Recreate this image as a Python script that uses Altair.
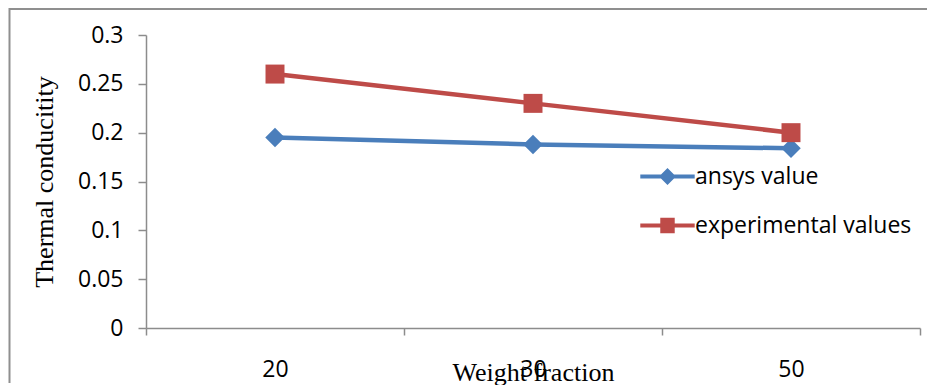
import altair as alt
import pandas as pd

# ---- data ----
fractions = ["20", "30", "50"]
ansys_value = [0.195, 0.188, 0.184]
experimental_values = [0.26, 0.23, 0.20]
series_names = ["ansys value", "experimental values"]
series_colors = ["#4A7EBB", "#BE4B48"]
y_ticks = [0, 0.05, 0.1, 0.15, 0.2, 0.25, 0.3]

df = pd.DataFrame({
    "fraction": fractions * 2,
    "value": ansys_value + experimental_values,
    "series": [series_names[0]] * 3 + [series_names[1]] * 3,
})

SANS = "Open Sans"
SERIF = "Liberation Serif"
AXIS_GRAY = "#8c8c8c"

x_enc = alt.X(
    "fraction:O",
    sort=fractions,
    scale=alt.Scale(type="band", paddingInner=0, paddingOuter=0),
    axis=alt.Axis(
        title="Weight fraction",
        tickBand="extent",
        labelAngle=0,
        labelFont=SANS,
        labelFontSize=23,
        labelColor="black",
        labelPadding=23,
        tickSize=7,
        tickColor=AXIS_GRAY,
        tickWidth=1.5,
        domainColor=AXIS_GRAY,
        domainWidth=1.5,
        grid=False,
        titleFont=SERIF,
        titleFontSize=26,
        titleFontWeight="normal",
        titleColor="black",
        titleBaseline="alphabetic",
        titleY=52,
    ),
)

y_enc = alt.Y(
    "value:Q",
    scale=alt.Scale(domain=[0, 0.3], nice=False, zero=True),
    axis=alt.Axis(
        values=y_ticks,
        format=".2~f",
        title="Thermal conducitity",
        labelFont=SANS,
        labelFontSize=23,
        labelColor="black",
        labelPadding=15,
        tickSize=8,
        tickColor=AXIS_GRAY,
        tickWidth=1.5,
        domainColor=AXIS_GRAY,
        domainWidth=1.5,
        grid=False,
        titleFont=SERIF,
        titleFontSize=26,
        titleFontWeight="normal",
        titleColor="black",
        titleBaseline="alphabetic",
        titleAlign="center",
        titleAngle=270,
        titleX=-94,
        titleY=146.5,
    ),
)

color_scale = alt.Scale(domain=series_names, range=series_colors)

# legend symbols: line with marker in the middle (unit = sqrt(size)/2 px)
path_diamond = ("M-3.2,-0.24 L3.2,-0.24 L3.2,0.24 L-3.2,0.24 Z "
                "M0,-1 L1,0 L0,1 L-1,0 Z")
path_square = ("M-3.2,-0.24 L3.2,-0.24 L3.2,0.24 L-3.2,0.24 Z "
               "M-0.85,-0.9 L0.85,-0.9 L0.85,0.9 L-0.85,0.9 Z")

legend = alt.Legend(
    orient="none",
    legendX=510,
    legendY=130,
    title=None,
    labelFont=SANS,
    labelFontSize=23,
    labelColor="black",
    labelLimit=400,
    labelOffset=16,
    rowPadding=25,
    symbolSize=289,
    symbolStrokeWidth=0,
    symbolOpacity=1,
)

color_enc = alt.Color("series:N", scale=color_scale, legend=legend)

base = alt.Chart(df)

lines = base.mark_line(strokeWidth=4.5).encode(
    x=x_enc, y=y_enc, color=color_enc,
)

pts_ansys = base.transform_filter(
    alt.datum.series == series_names[0]
).mark_point(shape="diamond", filled=True, size=380, opacity=1).encode(
    x=x_enc, y=y_enc, color=color_enc,
)

pts_exp = base.transform_filter(
    alt.datum.series == series_names[1]
).mark_point(shape="square", filled=True, size=360, opacity=1).encode(
    x=x_enc, y=y_enc, color=color_enc,
)

legend_layer = base.transform_filter("false").mark_point(
    filled=True, size=289, opacity=1
).encode(
    x=x_enc, y=y_enc,
    color=color_enc,
    shape=alt.Shape("series:N",
                    scale=alt.Scale(domain=series_names,
                                    range=[path_diamond, path_square]),
                    legend=legend),
)

# outer chart frame (top and left edges visible in the reference)
frame_df = pd.DataFrame({"k": [0]})
frame_top = alt.Chart(frame_df).mark_rule(color="#8f8f8f", strokeWidth=2).encode(
    x=alt.value(-137), x2=alt.value(781), y=alt.value(-26)
)
frame_left = alt.Chart(frame_df).mark_rule(color="#8f8f8f", strokeWidth=2).encode(
    x=alt.value(-136.5), y=alt.value(-27), y2=alt.value(348)
)

chart = alt.layer(
    lines, pts_ansys, pts_exp, legend_layer, frame_top, frame_left
).properties(
    width=774,
    height=293,
    autosize=alt.AutoSizeParams(type="none"),
    padding={"left": 146, "top": 35, "right": 7, "bottom": 57},
    background="white",
).configure_view(stroke=None)

chart.save("out.html", embed_options={"renderer": "svg", "actions": False})
